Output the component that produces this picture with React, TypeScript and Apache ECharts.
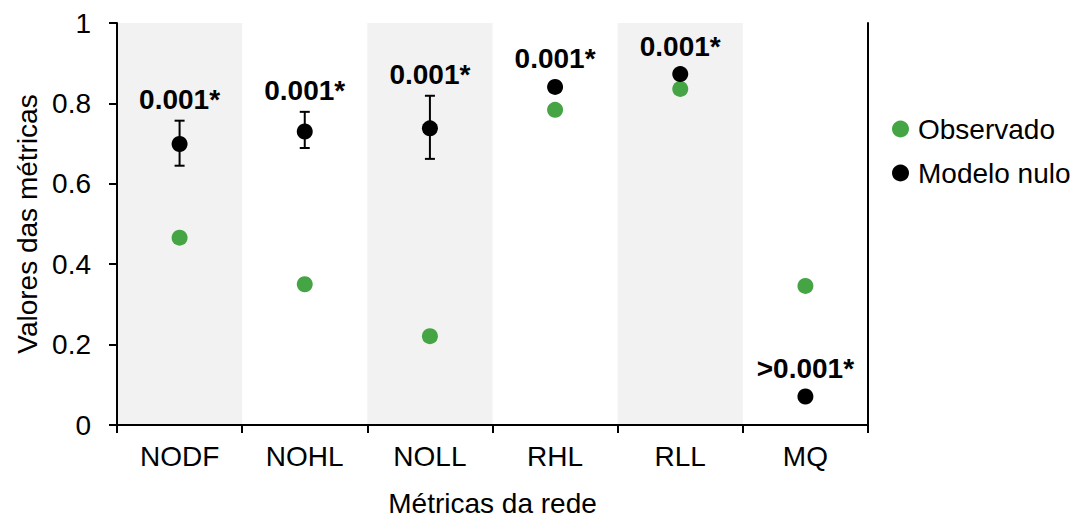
import React, { useEffect, useRef } from "react";
import * as echarts from "echarts";

const categories = ["NODF", "NOHL", "NOLL", "RHL", "RLL", "MQ"];
const observed = [0.466, 0.35, 0.221, 0.784, 0.836, 0.346];
const nullModel = [0.699, 0.73, 0.738, 0.841, 0.873, 0.071];
const nullLow: (number | null)[] = [0.645, 0.689, 0.662, null, null, null];
const nullHigh: (number | null)[] = [0.757, 0.779, 0.819, null, null, null];
const pLabels = ["0.001*", "0.001*", "0.001*", "0.001*", "0.001*", ">0.001*"];
const shadedColumns = [1, null, 1, null, 1, null];
const yTicks = { min: 0, max: 1, interval: 0.2 };

const FONT = 'Arial, "Liberation Sans", sans-serif';

export default function App() {
  const ref = useRef<HTMLDivElement>(null);
  useEffect(() => {
    if (!ref.current) return;
    const chart = echarts.init(ref.current, null, { renderer: "svg" });
    const axisLine = { show: true, lineStyle: { color: "#000", width: 2 } };
    chart.setOption({
      animation: false,
      backgroundColor: "#fff",
      textStyle: { fontFamily: FONT },
      grid: { left: 117, right: 208, top: 23, bottom: 92, containLabel: false },
      legend: {
        data: ["Observado", "Modelo nulo"],
        orient: "vertical",
        left: 887,
        top: 110,
        icon: "circle",
        itemWidth: 25,
        itemHeight: 17,
        itemGap: 16,
        symbolKeepAspect: true,
        textStyle: { fontSize: 28, color: "#000", fontFamily: FONT },
      },
      xAxis: [
        {
          type: "category",
          data: categories,
          position: "bottom",
          z: 5,
          axisLine,
          axisTick: { show: true, length: 8, lineStyle: { color: "#000", width: 2 } },
          axisLabel: { fontSize: 28, color: "#000", margin: 17, fontFamily: FONT },
          name: "Métricas da rede",
          nameLocation: "middle",
          nameGap: 64,
          nameTextStyle: { fontSize: 28, color: "#000", fontFamily: FONT },
          splitLine: { show: false },
        },
        {
          type: "category",
          data: categories,
          position: "top",
          z: 5,
          axisLine,
          axisTick: { show: false },
          axisLabel: { show: false },
          splitLine: { show: false },
        },
      ],
      yAxis: [
        {
          type: "value",
          min: yTicks.min,
          max: yTicks.max,
          interval: yTicks.interval,
          position: "left",
          z: 5,
          axisLine,
          axisTick: { show: true, length: 8, lineStyle: { color: "#000", width: 2 } },
          axisLabel: { fontSize: 28, color: "#000", margin: 26, fontFamily: FONT },
          splitLine: { show: false },
          name: "Valores das métricas",
          nameLocation: "middle",
          nameGap: 70,
          nameTextStyle: { fontSize: 28, color: "#000", fontFamily: FONT },
        },
        {
          type: "value",
          min: yTicks.min,
          max: yTicks.max,
          interval: yTicks.interval,
          position: "right",
          z: 5,
          axisLine,
          axisTick: { show: false },
          axisLabel: { show: false },
          splitLine: { show: false },
        },
      ],
      series: [
        {
          name: "bands",
          type: "bar",
          data: shadedColumns.map((v) => (v == null ? "-" : v)),
          barWidth: "100%",
          itemStyle: { color: "#f2f2f2" },
          silent: true,
          z: 0,
        },
        {
          name: "Observado",
          type: "scatter",
          data: observed,
          symbol: "circle",
          symbolSize: 16,
          itemStyle: { color: "#45a545", opacity: 1 },
          z: 3,
        },
        {
          name: "errors",
          type: "custom",
          data: nullModel.map((v, i) => [i, v]),
          z: 2,
          silent: true,
          renderItem: (params: any, api: any) => {
            const i = params.dataIndex;
            const v = api.value(1);
            const lo = nullLow[i];
            const hi = nullHigh[i];
            const children: any[] = [];
            const pt = api.coord([i, v]);
            let labelY = pt[1] - 28;
            if (lo != null && hi != null) {
              const pLo = api.coord([i, lo]);
              const pHi = api.coord([i, hi]);
              const ls = { stroke: "#000", lineWidth: 2 };
              children.push({ type: "line", shape: { x1: pLo[0], y1: pLo[1], x2: pHi[0], y2: pHi[1] }, style: ls });
              children.push({ type: "line", shape: { x1: pLo[0] - 5, y1: pLo[1], x2: pLo[0] + 5, y2: pLo[1] }, style: ls });
              children.push({ type: "line", shape: { x1: pHi[0] - 5, y1: pHi[1], x2: pHi[0] + 5, y2: pHi[1] }, style: ls });
              labelY = pHi[1] - 21;
            }
            children.push({
              type: "text",
              x: pt[0],
              y: labelY,
              style: {
                text: pLabels[i],
                fill: "#000",
                fontSize: 28,
                fontWeight: "bold",
                fontFamily: FONT,
                align: "center",
                verticalAlign: "middle",
              },
            });
            return { type: "group", children };
          },
        },
        {
          name: "Modelo nulo",
          type: "scatter",
          data: nullModel,
          symbol: "circle",
          symbolSize: 16,
          itemStyle: { color: "#000", opacity: 1 },
          z: 4,
        },
      ],
    });
    return () => chart.dispose();
  }, []);
  return (
    <div
      ref={ref}
      style={{ position: "absolute", left: 0, top: 0, width: 1076, height: 522 }}
    />
  );
}
